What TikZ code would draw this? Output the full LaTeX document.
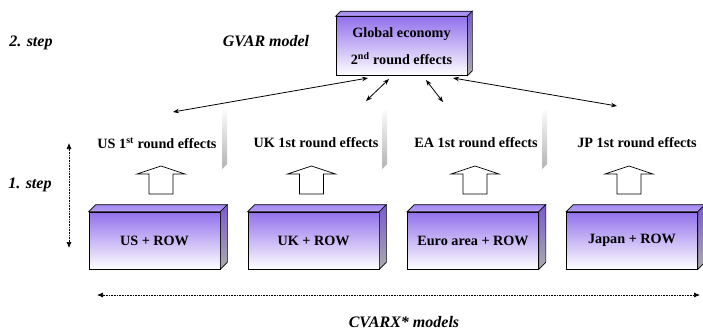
\documentclass[tikz,border=0pt]{standalone}
\usepackage{fontspec}
\setmainfont{Liberation Serif}[Ligatures=TeX]
\newfontfamily\tms{Liberation Serif}
\usetikzlibrary{arrows.meta,calc}
\definecolor{purptop}{RGB}{146,112,236}
\definecolor{purpside}{RGB}{120,90,205}
\definecolor{purplid}{RGB}{165,138,242}
\tikzset{
  cube/.style={draw=black, line width=0.6pt, minimum width=131pt, inner sep=0pt,
    top color=purptop, bottom color=white, font=\tms\fontsize{14.2}{16}\selectfont\bfseries},
  lbl/.style={font=\tms\fontsize{14.2}{16}\selectfont\bfseries, inner sep=0pt},
  steplbl/.style={font=\tms\fontsize{16}{18}\selectfont\bfseries\itshape, inner sep=0pt},
  blockarrow/.style={draw=black, line width=0.7pt, fill=white},
  link/.style={{Stealth[length=6pt,width=4.5pt]}-{Stealth[length=6pt,width=4.5pt]}, line width=0.8pt},
  dotarrow/.style={{Latex[length=6pt,width=5pt]}-{Latex[length=6pt,width=5pt]},
    dash pattern=on 0.8pt off 0.8pt, line width=0.7pt},
  shadebar/.style={top color=white, bottom color=gray!60, draw=none}
}
\newcommand{\cubefaces}[2]{% node name, depth
  \shade[top color=purplid, bottom color=purplid!85!white, draw=black, line width=0.6pt]
    (#1.north west) -- ++(#2,-#2) -- ($(#1.north east)+(#2,-#2)$) -- (#1.north east) -- cycle;
  \shade[top color=purpside, bottom color=gray!65, draw=black, line width=0.6pt]
    (#1.north east) -- ++(#2,-#2) -- ($(#1.south east)+(#2,-#2)$) -- (#1.south east) -- cycle;
}
\newcommand{\blockup}[1]{% center x
  \draw[blockarrow] (#1-12,194) -- (#1-12,174) -- (#1-24,174) -- (#1,166) -- (#1+24,174)
    -- (#1+12,174) -- (#1+12,194) -- cycle;
}
\begin{document}
\begin{tikzpicture}[x=1pt,y=-1pt]
\useasboundingbox (0,0) rectangle (703,333);

% top box
\node[cube, minimum height=59pt, align=center, font=\tms\fontsize{14.2}{27}\selectfont\bfseries]
  (glob) at (401.5,46) {Global economy\\2\textsuperscript{nd} round effects};
\cubefaces{glob}{5}

% bottom boxes
\node[cube, minimum height=57pt] (us) at (154.5,240.5) {US + ROW};
\node[cube, minimum height=57pt] (uk) at (313.5,240.5) {UK + ROW};
\node[cube, minimum height=57pt] (ea) at (473,240.5) {Euro area + ROW};
\node[cube, minimum height=57pt] (jp) at (632,240.5) {Japan + ROW};
\foreach \n in {us,uk,ea,jp} {\cubefaces{\n}{7}}

% shade bars of label boxes
\foreach \x in {222,382,542} {
  \shade[shadebar] (\x,112) -- (\x+5,107) -- (\x+5,164) -- (\x,169) -- cycle;
}

% labels
\node[lbl] (usl) at (157,143) {US 1\textsuperscript{st} round effects};
\node[lbl] (ukl) at (316,143) {UK 1st round effects};
\node[lbl] (eal) at (476,143) {EA 1st round effects};
\node[lbl] (jpl) at (637,143) {JP 1st round effects};

% block arrows
\blockup{161}
\blockup{311.5}
\blockup{475}
\blockup{629}

% links
\coordinate (g1) at (368,78);
\coordinate (g2) at (389,79);
\coordinate (g3) at (426,80);
\coordinate (g4) at (453,78);
\coordinate (e1) at (173,112);
\coordinate (e2) at (366,101);
\coordinate (e3) at (443,102);
\coordinate (e4) at (617,106);
\draw[link] (g1) -- (e1);
\draw[link] (g2) -- (e2);
\draw[link] (g3) -- (e3);
\draw[link] (g4) -- (e4);

% step labels
\node[steplbl] (s2) at (31,43) {2. step};
\node[steplbl] (gv) at (266,41) {GVAR model};
\node[steplbl] (s1) at (30,185) {1. step};
\node[steplbl] (cv) at (404,322) {CVARX* models};

% dotted arrows
\coordinate (v1) at (69,143);
\coordinate (v2) at (69,248);
\draw[dotarrow] (v1) -- (v2);
\coordinate (h1) at (97,295);
\coordinate (h2) at (700,295);
\draw[dotarrow] (h1) -- (h2);
\end{tikzpicture}
\end{document}
